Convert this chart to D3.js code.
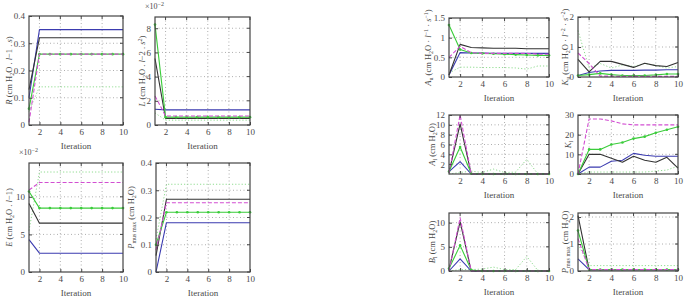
<!DOCTYPE html>
<html><head><meta charset="utf-8">
<script src="https://cdn.jsdelivr.net/npm/d3@7"></script>
<style>body{margin:0;background:#fff}svg{display:block}svg text{font-family:"Liberation Serif","Times New Roman",serif !important;font-weight:400;fill:#4a4a4a}</style>
</head><body><svg id="c" width="685" height="300"></svg>
<script>
// ---------- DATA ----------
const iterations = [1,2,3,4,5,6,7,8,9,10];
const xTicks = [2,4,6,8,10];
const seriesNames = ["dotted","blue","black","green","magenta"];
// each panel: values per series in order [dotted, blue, black, green, magenta]
const R_values = [
  [0.05,0.14,0.14,0.14,0.14,0.14,0.14,0.14,0.14,0.14],
  [0.10,0.35,0.35,0.35,0.35,0.35,0.35,0.35,0.35,0.35],
  [0.13,0.32,0.32,0.32,0.32,0.32,0.32,0.32,0.32,0.32],
  [0.06,0.26,0.26,0.26,0.26,0.26,0.26,0.26,0.26,0.26],
  [0.01,0.26,0.26,0.26,0.26,0.26,0.26,0.26,0.26,0.26]];
const L_values = [ // x 10^-2
  [1.0,0.4,0.4,0.4,0.4,0.4,0.4,0.4,0.4,0.4],
  [1.3,1.25,1.25,1.25,1.25,1.25,1.25,1.25,1.25,1.25],
  [5.5,0.55,0.55,0.55,0.55,0.55,0.55,0.55,0.55,0.55],
  [8.3,0.65,0.65,0.65,0.65,0.65,0.65,0.65,0.65,0.65],
  [2.4,0.75,0.75,0.75,0.75,0.75,0.75,0.75,0.75,0.75]];
const E_values = [ // x 10^-2
  [5.5,13.3,13.3,13.3,13.3,13.3,13.3,13.3,13.3,13.3],
  [4.3,2.5,2.5,2.5,2.5,2.5,2.5,2.5,2.5,2.5],
  [9.1,6.5,6.5,6.5,6.5,6.5,6.5,6.5,6.5,6.5],
  [10.7,8.5,8.5,8.5,8.5,8.5,8.5,8.5,8.5,8.5],
  [10.9,11.9,11.9,11.9,11.9,11.9,11.9,11.9,11.9,11.9]];
const Pmus1_values = [
  [0.12,0.322,0.322,0.322,0.322,0.322,0.322,0.322,0.322,0.322],
  [0.0,0.181,0.181,0.181,0.181,0.181,0.181,0.181,0.181,0.181],
  [0.06,0.267,0.267,0.267,0.267,0.267,0.267,0.267,0.267,0.267],
  [0.10,0.219,0.219,0.219,0.219,0.219,0.219,0.219,0.219,0.219],
  [0.08,0.254,0.254,0.254,0.254,0.254,0.254,0.254,0.254,0.254]];
const Au_values = [
  [0.10,0.25,0.25,0.24,0.24,0.24,0.23,0.20,0.28,0.28],
  [0.05,0.62,0.61,0.61,0.60,0.60,0.60,0.60,0.60,0.60],
  [0.05,0.83,0.75,0.74,0.73,0.73,0.73,0.72,0.72,0.72],
  [1.32,0.70,0.61,0.60,0.59,0.58,0.57,0.56,0.55,0.55],
  [0.50,0.78,0.62,0.60,0.60,0.60,0.60,0.60,0.58,0.58]];
const Ku_values = [
  [1.55,0.30,0.45,0.30,0.40,0.35,0.45,0.38,0.30,0.35],
  [0.05,0.15,0.20,0.22,0.22,0.22,0.23,0.23,0.24,0.24],
  [0.59,0.17,0.52,0.52,0.42,0.32,0.46,0.38,0.35,0.48],
  [0.05,0.08,0.12,0.08,0.05,0.05,0.05,0.07,0.10,0.10],
  [0.80,0.45,0.03,0.03,0.02,0.02,0.02,0.02,0.02,0.02]];
const Al_values = [
  [0.0,0.3,0.6,0.3,1.0,0.3,0.4,3.0,0.0,0.0],
  [0.5,2.5,0,0,0,0,0,0,0,0],
  [0.3,10.2,0,0,0,0,0,0,0,0],
  [0.5,5.5,0.1,0,0,0,0,0,0,0],
  [0.2,12.0,0,0,0,0,0,0,0,0]];
const Kl_values = [
  [0,1,1,1,1,1,1,1.5,2,4],
  [0,3.5,3.5,6.5,7,10.5,9.5,9,9,9],
  [0,10,10,8,6,9,7,6,8.5,3],
  [0,12.5,12.5,15,16,18,19,21,22.5,24],
  [0,28,28,27,25.5,25,25,25,25,25]];
const Bl_values = [
  [0,0.3,0.3,0.4,0.8,0.3,0.3,3.0,0.1,0],
  [0,2.5,0,0,0,0,0,0,0,0],
  [0.3,10.2,0,0,0,0,0,0,0,0],
  [0.5,5.3,0.2,0,0,0,0,0,0,0],
  [0,11.0,0,0,0,0,0,0,0,0]];
const Pmus2_values = [
  [1.0,0.2,0.2,0.2,0.2,0.2,0.2,0.2,0.2,0.2],
  [0.45,0.05,0.05,0.05,0.05,0.05,0.05,0.05,0.05,0.05],
  [2.05,0.05,0.05,0.05,0.05,0.05,0.05,0.05,0.05,0.05],
  [1.5,0.05,0.05,0.05,0.05,0.05,0.05,0.05,0.05,0.05],
  [1.2,0.05,0.05,0.05,0.05,0.05,0.05,0.05,0.05,0.05]];
// y tick labels
const R_ticks = [0,0.1,0.2,0.3,0.4];
const L_ticks = [0,2,4,6,8];
const E_ticks = [0,5,10];
const Pmus1_ticks = [0,0.1,0.2,0.3,0.4];
const Au_ticks = [0,0.5,1,1.5];
const Ku_ticks = [0,1,2];
const Al_ticks = [2,4,6,8,10,12];
const Kl_ticks = [0,10,20,30];
const Bl_ticks = [0,5,10];
const Pmus2_ticks = [0,1,2];

// ---------- LAYOUT / STYLE ----------
const styles = {
  dotted:{color:"#8fdc8f",dash:"1.2,2",width:1},
  blue:{color:"#3b3bb0",dash:null,width:1.1},
  black:{color:"#333333",dash:null,width:1.1},
  green:{color:"#3acc3a",dash:null,width:1.1,marker:true},
  magenta:{color:"#d24fd2",dash:"4,2",width:1.1}
};
const H2O = [[" (cm H"],["2","sub"],["O"]];
const panels = [
  {vals:R_values,ticks:R_ticks,dom:[0,0.4],x0:29,x1:123,y0:16,y1:125,lx:9,
   label:[["R","i"],...H2O,[" . "],["l","i"],["−1 . "],["s","i"],[")"]]},
  {vals:L_values,ticks:L_ticks,dom:[0,8.93],x0:155,x1:250,y0:17,y1:125,lx:142,exp:true,
   label:[["L","i"],...H2O,[" . "],["l","i"],["−2 . "],["s","i"],["2","sup"],[")"]]},
  {vals:E_values,ticks:E_ticks,dom:[0,14.5],x0:29,x1:123,y0:163,y1:272,lx:9,exp:true,
   label:[["E","i"],...H2O,[" . "],["l","i"],["−1)"]]},
  {vals:Pmus1_values,ticks:Pmus1_ticks,dom:[0,0.4],x0:156,x1:250,y0:163,y1:272,lx:131,
   label:[["P","i"],["mus max","sub"],...H2O,[")"]]},
  {vals:Au_values,ticks:Au_ticks,dom:[0,1.5],x0:449,x1:549,y0:18,y1:77,lx:428,
   label:[["A","i"],["u","sub"],...H2O,[" · "],["l","i"],["−1","sup"],[" · "],["s","i"],["−1","sup"],[")"]]},
  {vals:Ku_values,ticks:Ku_ticks,dom:[0,2],x0:578,x1:678,y0:17,y1:77,lx:565,
   label:[["K","i"],["u","sub"],...H2O,[" · "],["l","i"],["−2","sup"],[" · "],["s","i"],["−2","sup"],[")"]]},
  {vals:Al_values,ticks:Al_ticks,dom:[0,12],x0:449,x1:549,y0:115,y1:174,lx:432,
   label:[["A","i"],["l","sub"],...H2O,[")"]]},
  {vals:Kl_values,ticks:Kl_ticks,dom:[0,30],x0:578,x1:678,y0:115,y1:174,lx:568,
   label:[["K","i"],["l","sub"]]},
  {vals:Bl_values,ticks:Bl_ticks,dom:[0,12],x0:449,x1:549,y0:213,y1:271,lx:432,
   label:[["B","i"],["l","sub"],...H2O,[")"]]},
  {vals:Pmus2_values,ticks:Pmus2_ticks,dom:[0,2.15],x0:578,x1:678,y0:213,y1:271,lx:565,
   label:[["P","i"],["mus max","sub"],...H2O,[")"]]}
];

const svg = d3.select("#c");
const fmt = v => String(v);

panels.forEach(p => {
  const x = d3.scaleLinear().domain([1,10]).range([p.x0,p.x1]);
  const y = d3.scaleLinear().domain(p.dom).range([p.y1,p.y0]);
  const g = svg.append("g");
  // grid
  const grid = g.append("g").attr("stroke","#9a9a9a").attr("stroke-width",0.8).attr("stroke-dasharray","1,2.5");
  xTicks.filter(t=>t<10).forEach(t=>grid.append("line").attr("x1",x(t)).attr("x2",x(t)).attr("y1",p.y0).attr("y2",p.y1));
  p.ticks.filter(t=>t>p.dom[0] && t<p.dom[1]-1e-9).forEach(t=>grid.append("line").attr("y1",y(t)).attr("y2",y(t)).attr("x1",p.x0).attr("x2",p.x1));
  // series
  const line = d3.line().x((d,i)=>x(iterations[i])).y(d=>y(d));
  seriesNames.forEach((name,si)=>{
    const st = styles[name];
    g.append("path").datum(p.vals[si]).attr("d",line).attr("fill","none")
      .attr("stroke",st.color).attr("stroke-width",st.width)
      .attr("stroke-dasharray",st.dash).attr("stroke-linejoin","round");
    if(st.marker){
      g.selectAll(null).data(p.vals[si]).enter().append("circle")
        .attr("cx",(d,i)=>x(iterations[i])).attr("cy",d=>y(d)).attr("r",1.3).attr("fill",st.color);
    }
  });
  // frame
  g.append("rect").attr("x",p.x0).attr("y",p.y0).attr("width",p.x1-p.x0).attr("height",p.y1-p.y0)
    .attr("fill","none").attr("stroke","#444").attr("stroke-width",1.2);
  // axes
  const xa = d3.axisBottom(x).tickValues(xTicks).tickSize(-3).tickPadding(4).tickFormat(fmt);
  const xg = g.append("g").attr("transform",`translate(0,${p.y1})`).call(xa);
  const ya = d3.axisLeft(y).tickValues(p.ticks).tickSize(-3).tickPadding(4).tickFormat(fmt);
  const yg = g.append("g").attr("transform",`translate(${p.x0},0)`).call(ya);
  [xg,yg].forEach(a=>{
    a.attr("font-family",null).attr("font-size",null);
    a.select(".domain").remove();
    a.selectAll("line").attr("stroke","#444");
    a.selectAll("text").attr("font-size","9px");
  });
  // top/right ticks
  xTicks.forEach(t=>g.append("line").attr("x1",x(t)).attr("x2",x(t)).attr("y1",p.y0).attr("y2",p.y0+3).attr("stroke","#444"));
  p.ticks.forEach(t=>g.append("line").attr("y1",y(t)).attr("y2",y(t)).attr("x1",p.x1).attr("x2",p.x1-3).attr("stroke","#444"));
  // x label
  g.append("text").attr("x",(p.x0+p.x1)/2).attr("y",p.y1+24).attr("text-anchor","middle")
    .attr("font-size","9px").text("Iteration");
  // exponent
  if(p.exp){
    const e = g.append("text").attr("x",p.x0-10).attr("y",p.y0-8).attr("font-size","8px");
    e.append("tspan").text("×10");
    e.append("tspan").attr("dy",-3).attr("font-size","6px").text("−2");
  }
  // y label
  const cy = (p.y0+p.y1)/2;
  const t = g.append("text").attr("transform",`translate(${p.lx+3},${cy}) rotate(-90)`)
    .attr("text-anchor","middle").attr("font-size","8.5px");
  let shift = 0;
  p.label.forEach(([s,k])=>{
    const ts = t.append("tspan").text(s);
    let target = 0;
    if(k==="sub"){ target = 2; ts.attr("font-size","6px"); }
    else if(k==="sup"){ target = -3; ts.attr("font-size","6px"); }
    else if(k==="i"){ ts.attr("font-style","italic"); }
    if(target!==shift){ ts.attr("dy",target-shift); shift=target; }
  });
});
</script>
</body></html>
